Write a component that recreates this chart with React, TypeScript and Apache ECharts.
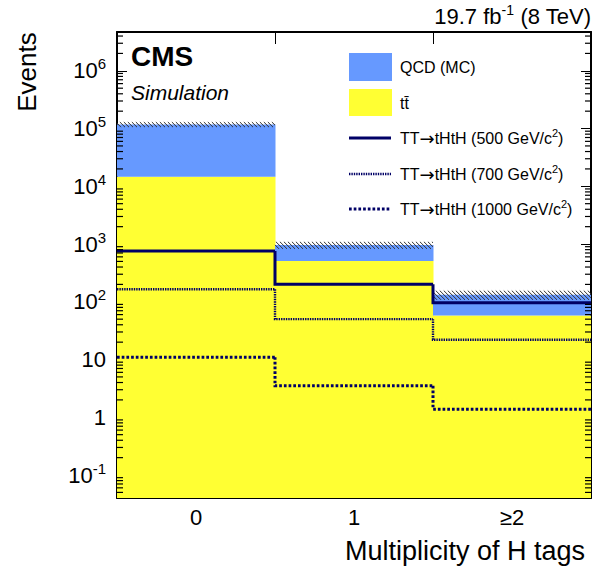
import React, { useEffect, useRef } from 'react';
import * as echarts from 'echarts';

// ---- data ----
const categories = ['0', '1', '≥2'];
const ttbarValues = [14700, 510, 58];
const qcdValues = [103000, 450, 74];
const bkgUncertainty = [12000, 135, 24];
const sig500Values = [759, 202, 96];
const sig700Values = [165, 50, 22];
const sig1000Values = [11.0, 3.5, 1.38];
const yAxisMin = 0.04;
const yAxisMax = 4.7e6;
const legendLabels = [
  'QCD (MC)',
  't' + 't\u0304',
  'TT{arr|→}tHtH (500 GeV/c{sup|2})',
  'TT{arr|→}tHtH (700 GeV/c{sup|2})',
  'TT{arr|→}tHtH (1000 GeV/c{sup|2})',
];

const FONT = '"Liberation Sans", Arial, Helvetica, sans-serif';
const NAVY = '#000066';
const BLUE = '#6699ff';
const YELLOW = '#ffff33';
const GRID_LEFT = 117;
const GRID_TOP = 32;
const GRID_W = 474;
const GRID_H = 466;

const totals = ttbarValues.map((v, i) => v + qcdValues[i]);

const minorTicks: number[] = [];
for (let k = -2; k <= 6; k++) {
  for (let m = 2; m <= 9; m++) {
    const v = m * Math.pow(10, k);
    if (v > yAxisMin * 1.001 && v < yAxisMax) minorTicks.push(v);
  }
}

function fillSeries(name: string, lows: number[] | null, highs: number[], color: string) {
  return {
    type: 'custom',
    name,
    silent: true,
    clip: true,
    z: 2,
    data: highs.map((v, i) => [i, v]),
    renderItem: (params: any, api: any) => {
      const i = params.dataIndex;
      const cs = params.coordSys;
      const top = api.coord([i, highs[i]]);
      const w = api.size([1, 0])[0];
      const bottom = lows ? api.coord([i, lows[i]])[1] : cs.y + cs.height;
      return {
        type: 'rect',
        shape: { x: top[0] - w / 2, y: top[1], width: w + 0.5, height: bottom - top[1] },
        style: { fill: color },
      };
    },
  };
}

function stepSeries(name: string, values: number[], dash: number[] | null, width: number, color: string) {
  return {
    type: 'custom',
    name,
    silent: true,
    clip: true,
    z: 5,
    data: values.map((v, i) => [i, v]),
    renderItem: (params: any, api: any) => {
      const i = params.dataIndex;
      const w = api.size([1, 0])[0];
      const c = api.coord([i, values[i]]);
      const pts: number[][] = [];
      if (i > 0) pts.push([c[0] - w / 2, api.coord([i - 1, values[i - 1]])[1]]);
      pts.push([c[0] - w / 2, c[1]], [c[0] + w / 2, c[1]]);
      return {
        type: 'polyline',
        shape: { points: pts },
        style: { stroke: color, lineWidth: width, lineDash: dash || undefined, fill: 'none', lineJoin: 'miter' },
      };
    },
  };
}

const hatchSeries = {
  type: 'custom',
  name: 'uncertainty',
  silent: true,
  clip: true,
  z: 3,
  data: totals.map((v, i) => [i, v]),
  renderItem: (params: any, api: any) => {
    const i = params.dataIndex;
    const yTop = api.coord([i, totals[i] + bkgUncertainty[i]])[1];
    const yBot = api.coord([i, totals[i] - bkgUncertainty[i]])[1];
    const c = api.coord([i, totals[i]]);
    const w = api.size([1, 0])[0];
    const x0 = c[0] - w / 2;
    const x1 = c[0] + w / 2;
    const h = yBot - yTop;
    const children: any[] = [];
    for (let x = x0 - h; x < x1; x += 4) {
      const sx = Math.max(x, x0);
      const ex = Math.min(x + h, x1);
      if (ex <= sx) continue;
      children.push({
        type: 'line',
        shape: { x1: sx, y1: yTop + (sx - x), x2: ex, y2: yTop + (ex - x) },
        style: { stroke: '#333333', lineWidth: 1 },
      });
    }
    return { type: 'group', children };
  },
};

function yLabel(v: number) {
  const k = Math.log10(v);
  const r = Math.round(k);
  if (Math.abs(k - r) > 1e-6) return '';
  if (r === 0) return '1';
  if (r === 1) return '10';
  return '10{sup|' + r + '}';
}

const supStyle = { fontSize: 15, fontFamily: FONT, color: '#000', padding: [0, 0, 14, 0] };
const legendSup = { fontSize: 11, fontFamily: FONT, fill: '#000', color: '#000', padding: [0, 0, 10, 0] };
const legendArr = { fontSize: 18, fontFamily: '"DejaVu Sans", sans-serif', fill: '#000', color: '#000' };

function legendText(y: number, text: string) {
  return {
    type: 'text',
    x: 400,
    y,
    z: 20,
    style: {
      text,
      font: '16px ' + FONT,
      fill: '#000',
      align: 'left',
      verticalAlign: 'middle',
      textAlign: 'left',
      textVerticalAlign: 'middle',
      rich: { sup: legendSup, arr: legendArr },
    },
  };
}

function textEl(x: number, y: number, text: string, font: string, align: string, extra: any = {}) {
  return {
    type: 'text',
    x,
    y,
    z: 20,
    ...extra,
    style: {
      text,
      font,
      fill: '#000',
      align,
      verticalAlign: 'middle',
      textAlign: align,
      textVerticalAlign: 'middle',
    },
  };
}

export default function App() {
  const ref = useRef<HTMLDivElement>(null);
  useEffect(() => {
    if (!ref.current) return;
    const chart = echarts.init(ref.current, null, { renderer: 'svg' });
    const axisLineStyle = { color: '#000', width: 2 };
    chart.setOption({
      animation: false,
      backgroundColor: '#fff',
      textStyle: { fontFamily: FONT },
      grid: { left: GRID_LEFT, top: GRID_TOP, width: GRID_W, height: GRID_H, containLabel: false },
      xAxis: [
        {
          type: 'category',
          data: categories,
          position: 'bottom',
          boundaryGap: true,
          axisLine: { show: true, lineStyle: axisLineStyle },
          axisTick: { show: true, inside: true, length: 13, lineStyle: { color: '#000', width: 1 } },
          axisLabel: { fontSize: 22, color: '#000', fontFamily: FONT, margin: 8 },
          splitLine: { show: false },
        },
        {
          type: 'category',
          data: categories,
          position: 'top',
          boundaryGap: true,
          axisLine: { show: true, lineStyle: axisLineStyle },
          axisTick: { show: true, inside: true, length: 12, lineStyle: { color: '#000', width: 1 } },
          axisLabel: { show: false },
          splitLine: { show: false },
        },
      ],
      yAxis: [
        {
          type: 'log',
          logBase: 10,
          min: yAxisMin,
          max: yAxisMax,
          position: 'left',
          axisLine: { show: true, lineStyle: axisLineStyle },
          axisTick: { show: true, inside: true, length: 10, lineStyle: { color: '#000', width: 1 } },
          axisLabel: {
            formatter: yLabel,
            fontSize: 22,
            color: '#000',
            fontFamily: FONT,
            margin: 11,
            rich: { sup: supStyle },
          },
          splitLine: { show: false },
        },
        {
          type: 'log',
          logBase: 10,
          min: yAxisMin,
          max: yAxisMax,
          position: 'right',
          axisLine: { show: true, lineStyle: axisLineStyle },
          axisTick: { show: true, inside: true, length: 10, lineStyle: { color: '#000', width: 1 } },
          axisLabel: { show: false },
          splitLine: { show: false },
        },
      ],
      series: [
        fillSeries('tt', null, ttbarValues, YELLOW),
        fillSeries('QCD', ttbarValues, totals, BLUE),
        hatchSeries,
        stepSeries('TT 500', sig500Values, null, 3, NAVY),
        stepSeries('TT 700', sig700Values, [1.4, 1], 2.4, NAVY),
        stepSeries('TT 1000', sig1000Values, [2.7, 2], 3, NAVY),
      ],
    });

    // minor ticks of the log axis (2..9 in each decade), placed through the axis scale
    const tickEls: any[] = [];
    minorTicks.forEach((v) => {
      const y = chart.convertToPixel({ yAxisIndex: 0 }, v) as number;
      tickEls.push({
        type: 'line',
        z: 100,
        shape: { x1: GRID_LEFT, y1: y, x2: GRID_LEFT + 6, y2: y },
        style: { stroke: '#000000', lineWidth: 1.2 },
      });
      tickEls.push({
        type: 'line',
        z: 100,
        shape: { x1: GRID_LEFT + GRID_W - 6, y1: y, x2: GRID_LEFT + GRID_W, y2: y },
        style: { stroke: '#000000', lineWidth: 1.2 },
      });
    });

    chart.setOption({
      graphic: [
        ...tickEls,
        {
          type: 'text',
          x: 591,
          y: 16,
          z: 20,
          style: {
            text: '19.7 fb{sup|-1} (8 TeV)',
            font: '22px ' + FONT,
            fill: '#000',
            align: 'right',
            verticalAlign: 'middle',
            textAlign: 'right',
            textVerticalAlign: 'middle',
            rich: { sup: { fontSize: 14, fontFamily: FONT, fill: '#000', padding: [0, 0, 12, 0] } },
          },
        },
        textEl(27, 72, 'Events', '26px ' + FONT, 'center', { rotation: Math.PI / 2 }),
        textEl(585, 551, 'Multiplicity of H tags', '27px ' + FONT, 'right'),
        textEl(131, 56, 'CMS', 'bold 28px ' + FONT, 'left'),
        textEl(131, 92, 'Simulation', 'italic 21px ' + FONT, 'left'),
        { type: 'rect', z: 20, shape: { x: 349, y: 53, width: 43, height: 28 }, style: { fill: BLUE } },
        { type: 'rect', z: 20, shape: { x: 349, y: 89, width: 43, height: 27 }, style: { fill: YELLOW } },
        {
          type: 'line',
          z: 20,
          shape: { x1: 349, y1: 138, x2: 391, y2: 138 },
          style: { stroke: NAVY, lineWidth: 3 },
        },
        {
          type: 'line',
          z: 20,
          shape: { x1: 349, y1: 174, x2: 391, y2: 174 },
          style: { stroke: NAVY, lineWidth: 2.4, lineDash: [1.4, 1] },
        },
        {
          type: 'line',
          z: 20,
          shape: { x1: 349, y1: 209, x2: 391, y2: 209 },
          style: { stroke: NAVY, lineWidth: 3, lineDash: [2.7, 2] },
        },
        legendText(67, legendLabels[0]),
        legendText(103, legendLabels[1]),
        legendText(138, legendLabels[2]),
        legendText(174, legendLabels[3]),
        legendText(209, legendLabels[4]),
      ],
    });
    return () => chart.dispose();
  }, []);
  return <div ref={ref} style={{ position: 'fixed', left: 0, top: 0, width: 606, height: 571 }} />;
}
